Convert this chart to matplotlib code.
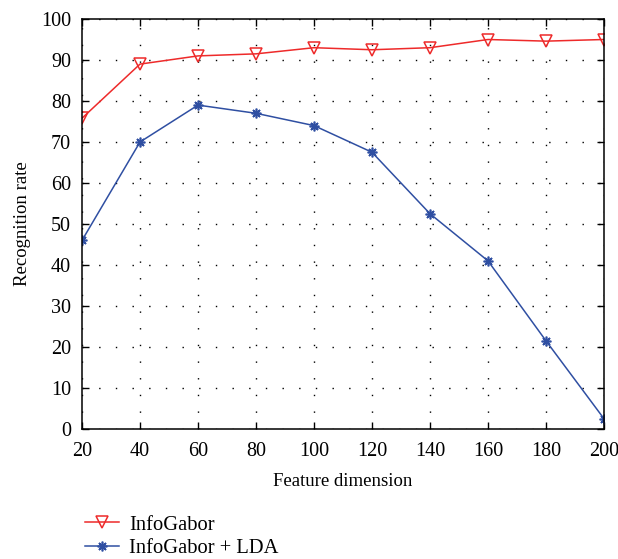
import matplotlib
matplotlib.use("Agg")
import matplotlib.pyplot as plt

plt.rcParams['font.family'] = ['Liberation Serif', 'DejaVu Serif']

dims = [20, 40, 60, 80, 100, 120, 140, 160, 180, 200]
info_gabor = [75.8, 89.0, 91.0, 91.5, 93.0, 92.5, 93.0, 95.0, 94.6, 95.0]
info_gabor_lda = [46.0, 70.0, 79.0, 77.0, 74.0, 67.5, 52.5, 41.0, 21.5, 2.5]

fig = plt.figure(figsize=(6.18, 5.59), dpi=100)
ax = fig.add_axes([82/618, 1 - 429/559, (604 - 82)/618, (429 - 19)/559])

l1, = ax.plot(dims, info_gabor, color='#ee2a2a', lw=1.1, marker='v', markersize=8,
              markerfacecolor='none', markeredgecolor='#ee2a2a', markeredgewidth=1.1)
l2, = ax.plot(dims, info_gabor_lda, color='#2f4fa2', lw=1.1, marker=(8, 2, 0), markersize=7,
              markeredgecolor='#2f4fa2', markeredgewidth=1.2)

ax.set_xlim(20, 200)
ax.set_ylim(0, 100)
ax.set_xticks(range(20, 201, 20))
ax.set_yticks(range(0, 101, 10))
ax.grid(True, linestyle=(0, (1, 11)), color='black', linewidth=1.0)
ax.tick_params(direction='in', top=True, right=True, labelsize=14.5, length=5, width=1)
ax.tick_params(axis='y', pad=8)
ax.tick_params(axis='x', pad=9)
for s in ax.spines.values():
    s.set_linewidth(1.1)

ax.set_xlabel('Feature dimension', fontsize=13.5, labelpad=9)
ax.set_ylabel('Recognition rate', fontsize=13.5, labelpad=7)

fig.legend([l1, l2], ['InfoGabor', 'InfoGabor + LDA'], loc='upper left',
           bbox_to_anchor=(75/618, 1 - 505/559), frameon=False, fontsize=14.8,
           handlelength=1.65, handletextpad=0.5, labelspacing=0.2, borderpad=0)

plt.savefig('out.png', dpi=100)
